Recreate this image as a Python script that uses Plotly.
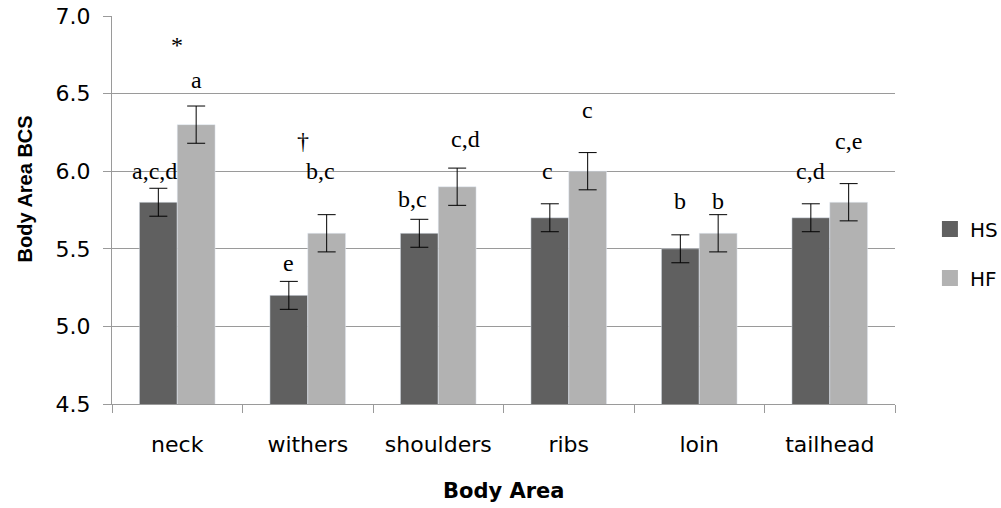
import plotly.graph_objects as go

categories = ["neck", "withers", "shoulders", "ribs", "loin", "tailhead"]
hs_values = [5.8, 5.2, 5.6, 5.7, 5.5, 5.7]
hf_values = [6.3, 5.6, 5.9, 6.0, 5.6, 5.8]
hs_se = [0.09, 0.09, 0.09, 0.09, 0.09, 0.09]
hf_se = [0.12, 0.12, 0.12, 0.12, 0.12, 0.12]
hs_letters = ["a,c,d", "e", "b,c", "c", "b", "c,d"]
hf_letters = ["a", "b,c", "c,d", "c", "b", "c,e"]
# label heights in data units
hs_label_y = [6.0, 5.41, 5.82, 6.0, 5.81, 6.0]
hf_label_y = [6.59, 6.0, 6.205, 6.395, 5.81, 6.195]
# significance markers between groups
sig_marks = ["*", "†", "", "", "", ""]
sig_y = [6.81, 6.195, None, None, None, None]

# small horizontal nudges of the letter labels (px), as placed in the original
HS_LABEL_DX = [-4, 0, -7, -2, 0, 0]
HF_LABEL_DX = [0, -6, 8, 0, 0, 0]

HS_COLOR = "#606060"
HF_COLOR = "#B2B2B2"
GRID = "#9a9a9a"
BARGAP = 0.42

fig = go.Figure()
fig.add_trace(go.Bar(
    x=categories, y=hs_values, name="HS", marker_color=HS_COLOR,
    error_y=dict(type="data", array=hs_se, color="black", thickness=1, width=9),
    showlegend=False,
))
fig.add_trace(go.Bar(
    x=categories, y=hf_values, name="HF", marker_color=HF_COLOR,
    error_y=dict(type="data", array=hf_se, color="black", thickness=1, width=9),
    showlegend=False,
))
# legend entries with larger square swatches
fig.add_trace(go.Scatter(x=[None], y=[None], mode="markers", name="HS",
                         marker=dict(symbol="square", size=16, color=HS_COLOR),
                         legendgroup="hs"))
fig.add_trace(go.Scatter(x=[None], y=[None], mode="markers", name="HF",
                         marker=dict(symbol="square", size=16, color=HF_COLOR),
                         legendgroup="hf"))

bw = (1 - BARGAP) / 2
ann_font = dict(family="Liberation Serif", size=24, color="black")
annotations = []
for i, cat in enumerate(categories):
    annotations.append(dict(x=i - bw / 2, y=hs_label_y[i], xref="x", yref="y",
                            text=hs_letters[i], showarrow=False, font=ann_font,
                            yanchor="middle", xshift=HS_LABEL_DX[i]))
    annotations.append(dict(x=i + bw / 2, y=hf_label_y[i], xref="x", yref="y",
                            text=hf_letters[i], showarrow=False, font=ann_font,
                            yanchor="middle", xshift=HF_LABEL_DX[i]))
    if sig_marks[i]:
        annotations.append(dict(x=i - (0.04 if sig_marks[i] == "†" else 0), y=sig_y[i],
                                xref="x", yref="y", text=sig_marks[i], showarrow=False,
                                font=ann_font, yanchor="middle"))

annotations.append(dict(text="<b>Body Area</b>", xref="paper", yref="paper", x=0.5, y=0,
                        xanchor="center", yanchor="middle", yshift=-87, showarrow=False,
                        font=dict(family="DejaVu Sans", size=21, color="black")))
annotations.append(dict(text="<b>Body Area BCS</b>", xref="paper", yref="paper", x=0, y=0.553,
                        xanchor="center", yanchor="middle", xshift=-87, textangle=-90,
                        showarrow=False,
                        font=dict(family="Liberation Sans", size=20, color="black")))

fig.update_layout(
    width=1001, height=508,
    margin=dict(l=112, r=106, t=16, b=104, pad=0),
    paper_bgcolor="white", plot_bgcolor="white",
    barmode="group", bargap=BARGAP, bargroupgap=0,
    annotations=annotations,
    legend=dict(x=0.929, y=0.5876, xref="container", yref="container",
                xanchor="left", yanchor="top",
                font=dict(family="DejaVu Sans", size=20, color="black"),
                tracegroupgap=20, bgcolor="rgba(0,0,0,0)"),
    font=dict(family="DejaVu Sans", color="black"),
)
fig.update_xaxes(
    type="category", showline=True, linecolor=GRID, linewidth=1,
    ticks="outside", tickson="boundaries", ticklen=8, tickcolor=GRID,
    tickfont=dict(family="DejaVu Sans", size=22, color="black"),
    ticklabelstandoff=21, showgrid=False, automargin=False,
)
fig.update_yaxes(
    range=[4.5, 7.0], dtick=0.5, tick0=4.5, tickformat=".1f",
    showline=True, linecolor=GRID, linewidth=1,
    ticks="outside", ticklen=8, tickcolor=GRID,
    showgrid=True, gridcolor=GRID, gridwidth=1, zeroline=False,
    tickfont=dict(family="DejaVu Sans", size=22, color="black"),
    ticklabelstandoff=8, automargin=False,
)

fig.write_html("out.html", config={"displayModeBar": False},
               post_script="document.body.style.margin='0';")
